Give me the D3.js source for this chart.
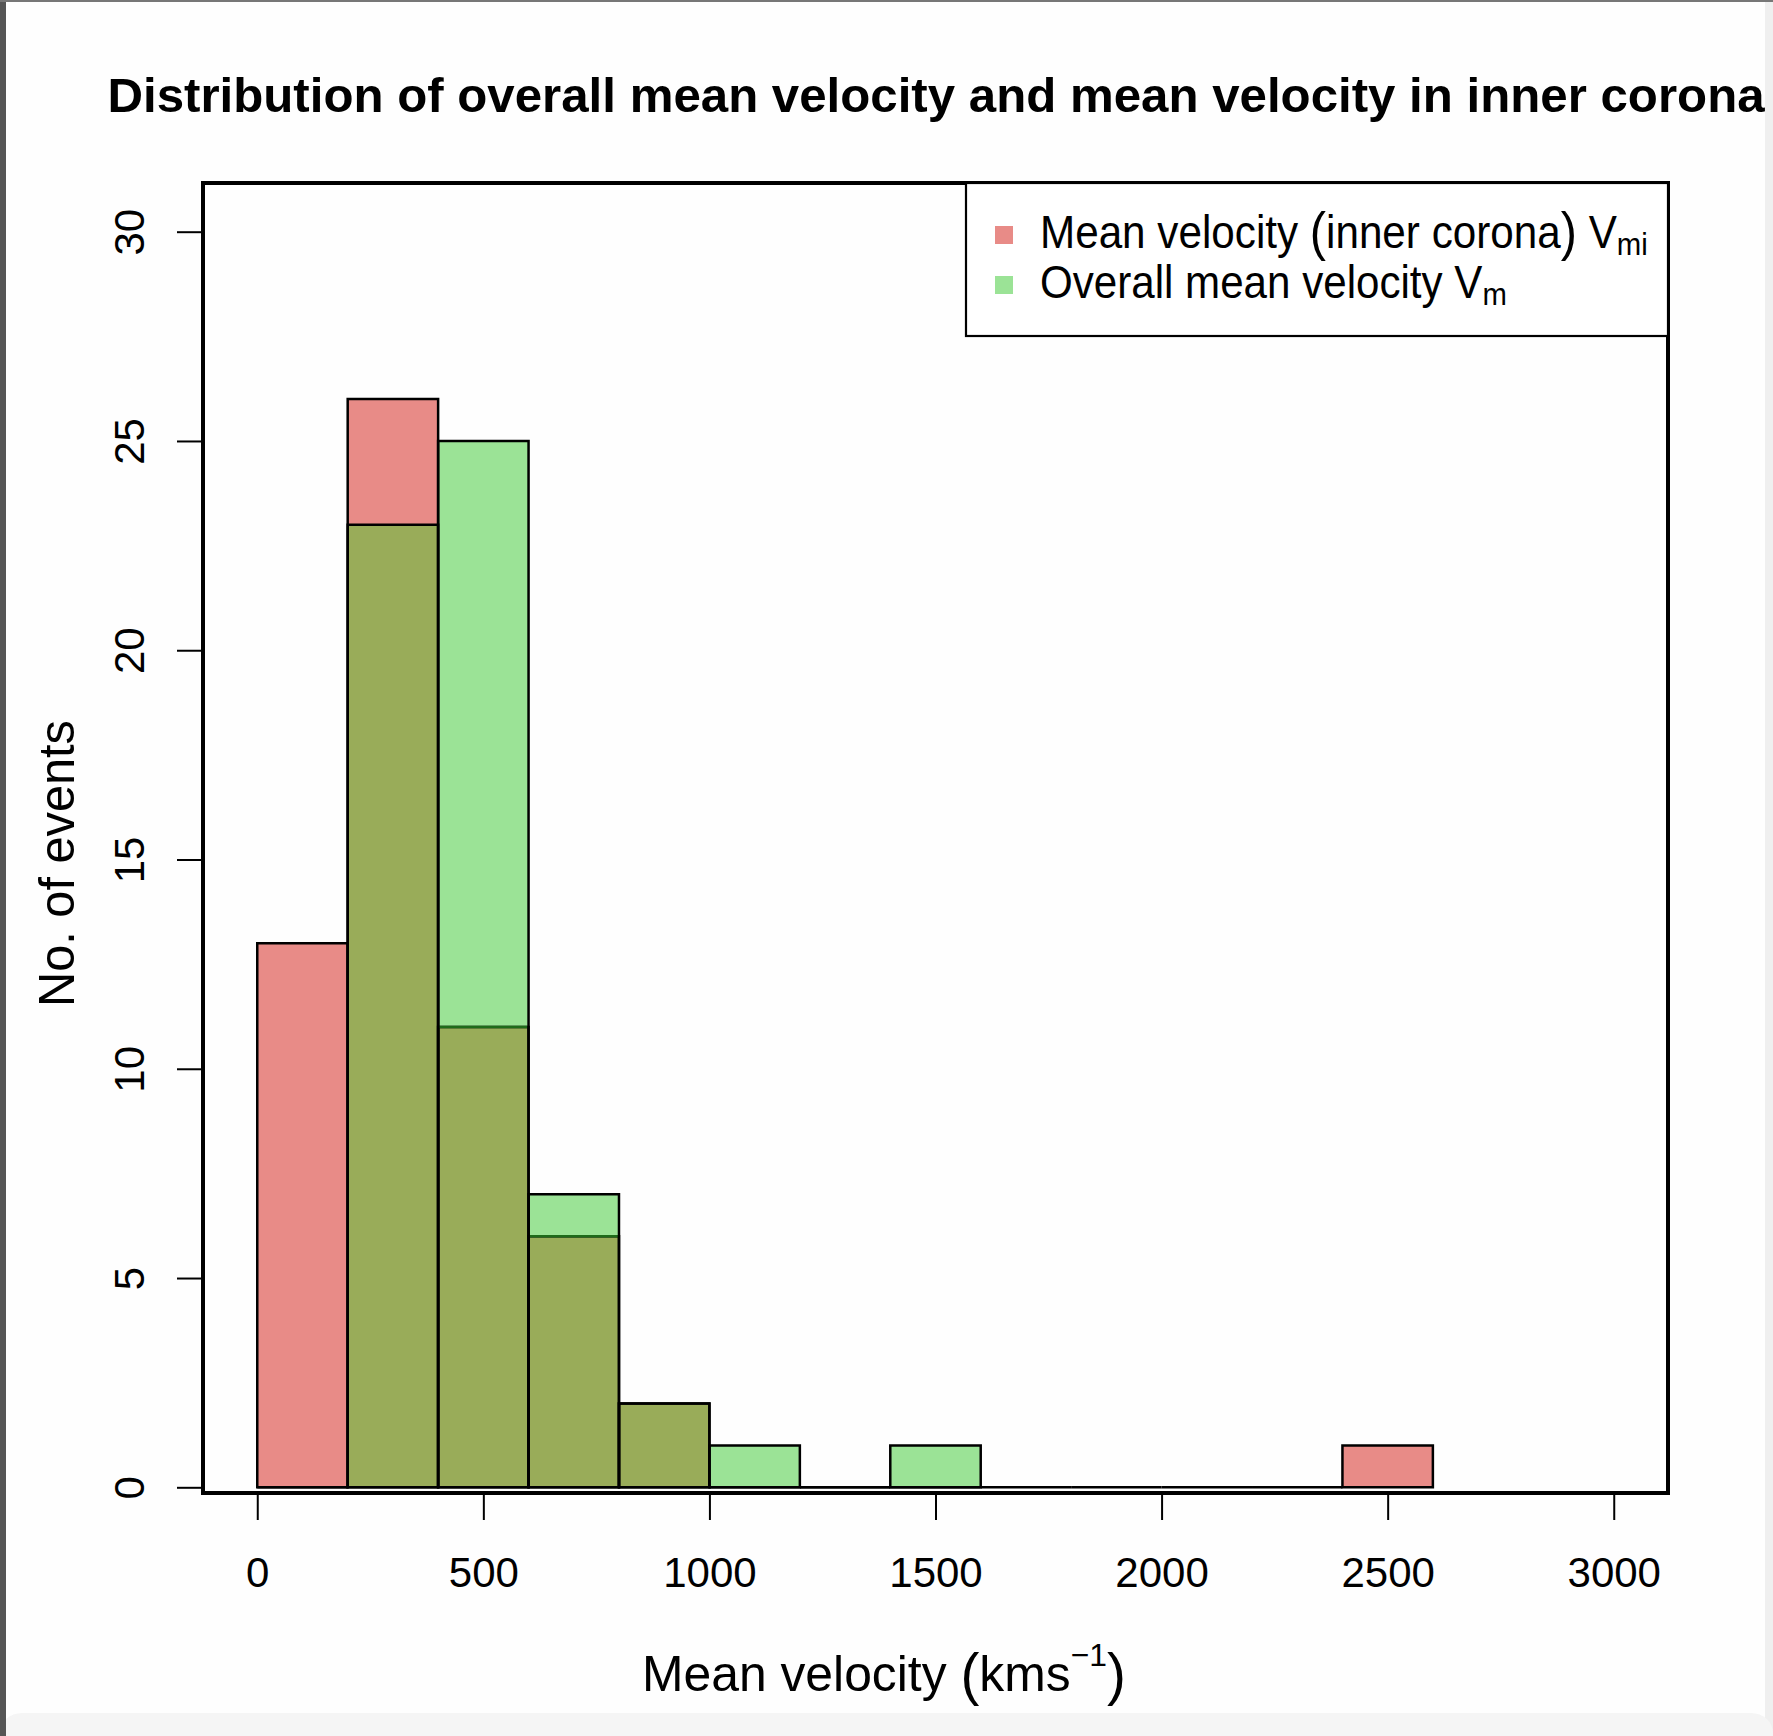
<!DOCTYPE html>
<html>
<head>
<meta charset="utf-8">
<script src="https://cdn.jsdelivr.net/npm/d3@7"></script>
<style>
  html, body { margin: 0; padding: 0; background: #fff; }
  svg { display: block; }
  text { font-family: "Liberation Sans", Arial, Helvetica, sans-serif; fill: #000; }
</style>
</head>
<body>
<svg id="chart" width="1773" height="1736"></svg>
<script>
// Histogram bins (km/s), 200 km/s wide
const binStarts = [0, 200, 400, 600, 800, 1000, 1200, 1400, 1600, 1800, 2000, 2200, 2400];
const binWidth = 200;
// Counts per bin: mean velocity in the inner corona (V_mi)
const innerCoronaCounts = [13, 26, 11, 6, 2, 0, 0, 0, 0, 0, 0, 0, 1];
// Counts per bin: overall mean velocity (V_m)
const overallCounts = [0, 23, 25, 7, 2, 1, 0, 1];
// Axis ticks
const xTickValues = [0, 500, 1000, 1500, 2000, 2500, 3000];
const yTickValues = [0, 5, 10, 15, 20, 25, 30];

const titleText = "Distribution of overall mean velocity and mean velocity in inner corona";
const legendItems = [
  { parts: ["Mean velocity ", "(", "inner corona", ")", " V"], sub: "mi", color: "#E88B87" },
  { parts: ["Overall mean velocity V"], sub: "m", color: "#9BE396" }
];

const colors = {
  inner: "#E88B87",
  overall: "#9BE396",
  overlap: "#99AC59",
  hiddenEdge: "#1F6B1A"
};

const svg = d3.select("#chart");

// Window edges around the plot
svg.append("rect").attr("x", 0).attr("y", 0).attr("width", 1773).attr("height", 1736).attr("fill", "#fefefe");
svg.append("rect").attr("x", 1765).attr("y", 0).attr("width", 8).attr("height", 1736).attr("fill", "#efefef");
svg.append("rect").attr("x", 0).attr("y", 1713).attr("width", 1773).attr("height", 40).attr("rx", 22).attr("fill", "#f5f5f5");
svg.append("rect").attr("x", 0).attr("y", 0).attr("width", 6).attr("height", 1736).attr("fill", "#555");
svg.append("rect").attr("x", 0).attr("y", 0).attr("width", 1773).attr("height", 2).attr("fill", "#777");

const plot = { left: 203, right: 1668, top: 183, bottom: 1493 };

const x = d3.scaleLinear().domain([-120, 3120]).range([plot.left, plot.right]);
const y = d3.scaleLinear().domain([0, 30]).range([1487.3, 231.7]);

function binPath(start, count) {
  const x0 = x(start), x1 = x(start + binWidth), y0 = y(0), y1 = y(count);
  return `M${x0},${y0}V${y1}H${x1}V${y0}Z`;
}

const innerBins = innerCoronaCounts.map((c, i) => ({ start: binStarts[i], count: c }));
const overallBins = overallCounts.map((c, i) => ({ start: binStarts[i], count: c }));
const overlapBins = overallBins.map((d, i) => ({ start: d.start, count: Math.min(d.count, innerCoronaCounts[i]) }));

const bars = svg.append("g");
const edgeWidth = 2.5;

// Fills
bars.append("g").selectAll("path").data(innerBins).join("path")
  .attr("d", d => binPath(d.start, d.count)).attr("fill", colors.inner).attr("stroke", "none");
bars.append("g").selectAll("path").data(overallBins).join("path")
  .attr("d", d => binPath(d.start, d.count)).attr("fill", colors.overall).attr("stroke", "none");
bars.append("g").selectAll("path").data(overlapBins.filter(d => d.count > 0)).join("path")
  .attr("d", d => binPath(d.start, d.count)).attr("fill", colors.overlap).attr("stroke", "none");

// Outlines of the inner-corona histogram
bars.append("g").selectAll("path").data(innerBins).join("path")
  .attr("d", d => binPath(d.start, d.count)).attr("fill", "none")
  .attr("stroke", "#000").attr("stroke-width", edgeWidth);
// Inner-corona bar tops that lie under a taller overall bar
bars.append("g").selectAll("line")
  .data(innerBins.filter((d, i) => d.count > 0 && i < overallCounts.length && d.count < overallCounts[i]))
  .join("line")
  .attr("x1", d => x(d.start) + 1).attr("x2", d => x(d.start + binWidth) - 1)
  .attr("y1", d => y(d.count)).attr("y2", d => y(d.count))
  .attr("stroke", colors.hiddenEdge).attr("stroke-width", edgeWidth);
// Outlines of the overall histogram
bars.append("g").selectAll("path").data(overallBins).join("path")
  .attr("d", d => binPath(d.start, d.count)).attr("fill", "none")
  .attr("stroke", "#000").attr("stroke-width", edgeWidth);

// Plot frame
svg.append("rect")
  .attr("x", plot.left).attr("y", plot.top)
  .attr("width", plot.right - plot.left).attr("height", plot.bottom - plot.top)
  .attr("fill", "none").attr("stroke", "#000").attr("stroke-width", 4);

// X axis
const xAxis = svg.append("g").attr("transform", `translate(0,${plot.bottom + 1})`)
  .call(d3.axisBottom(x).tickValues(xTickValues).tickSize(26).tickPadding(37).tickFormat(d3.format("d")));
xAxis.select(".domain").remove();
xAxis.selectAll(".tick line").attr("stroke", "#000").attr("stroke-width", 2);
xAxis.selectAll(".tick text").attr("font-size", 42).attr("fill", "#000")
  .style("font-family", '"Liberation Sans", Arial, sans-serif');

// Y axis with rotated labels
const yAxis = svg.append("g").attr("transform", `translate(${plot.left - 1},0)`)
  .call(d3.axisLeft(y).tickValues(yTickValues).tickSize(25).tickFormat(d3.format("d")));
yAxis.select(".domain").remove();
yAxis.selectAll(".tick line").attr("stroke", "#000").attr("stroke-width", 2);
yAxis.selectAll(".tick text")
  .attr("font-size", 42).attr("fill", "#000")
  .style("font-family", '"Liberation Sans", Arial, sans-serif')
  .attr("text-anchor", "middle").attr("x", 0).attr("y", -58).attr("dy", null)
  .attr("transform", "rotate(-90)");

// Scale a text group horizontally so its width matches the target
function fitWidth(group, textSel, target) {
  const w = textSel.node().getBBox().width;
  const s = target / w;
  const t = group.attr("transform") || "";
  group.attr("transform", `${t} scale(${s},1)`);
}

// Title
const titleG = svg.append("g").attr("transform", "translate(936,112)");
const title = titleG.append("text").attr("text-anchor", "middle")
  .attr("font-size", 47.5).attr("font-weight", "bold").text(titleText);
fitWidth(titleG, title, 1658);

// X axis label
const xlabG = svg.append("g").attr("transform", "translate(642,1691)");
const xlab = xlabG.append("text").attr("font-size", 50);
xlab.append("tspan").text("Mean velocity ");
xlab.append("tspan").attr("font-size", 57).attr("dy", 3).text("(");
xlab.append("tspan").attr("dy", -3).text("kms");
xlab.append("tspan").attr("font-size", 32).attr("dy", -25).text("\u22121");
xlab.append("tspan").attr("font-size", 57).attr("dy", 28).text(")");
fitWidth(xlabG, xlab, 484);

// Y axis label
const ylabG = svg.append("g").attr("transform", "translate(74,863.5) rotate(-90)");
const ylab = ylabG.append("text").attr("text-anchor", "middle").attr("font-size", 50).text("No. of events");
fitWidth(ylabG, ylab, 287);

// Legend
const legend = svg.append("g");
const legendLeft = 966;
legend.append("rect")
  .attr("x", legendLeft).attr("y", plot.top).attr("width", plot.right - legendLeft).attr("height", 336 - plot.top)
  .attr("fill", "#fff").attr("stroke", "#000").attr("stroke-width", 2.2);
const legendRows = [248, 298];
const legendTargets = [608, 467];
legendItems.forEach((item, i) => {
  legend.append("rect").attr("x", 995).attr("y", legendRows[i] - 22).attr("width", 18).attr("height", 18)
    .attr("fill", item.color);
  const g = legend.append("g").attr("transform", `translate(1040,${legendRows[i]})`);
  const t = g.append("text").attr("font-size", 46);
  let shift = 0;
  item.parts.forEach(p => {
    const isParen = p === "(" || p === ")";
    const target = isParen ? 2 : 0;
    t.append("tspan").attr("font-size", isParen ? 53 : 46).attr("dy", target - shift).text(p);
    shift = target;
  });
  t.append("tspan").attr("font-size", 32).attr("dy", 7 - shift).text(item.sub);
  fitWidth(g, t, legendTargets[i]);
});
</script>
</body>
</html>
